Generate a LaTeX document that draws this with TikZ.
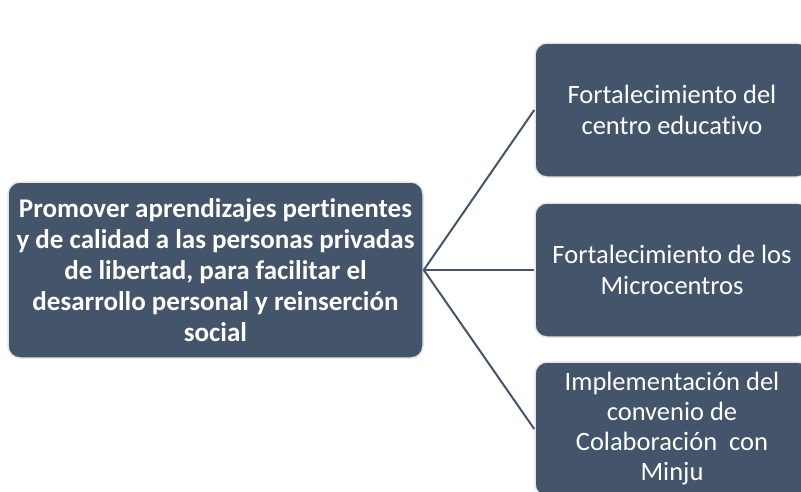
\documentclass[tikz,border=0pt]{standalone}
\usepackage{fontspec}
\setmainfont[Ligatures=NoCommon]{Carlito}
\definecolor{pizarra}{HTML}{44546A}
\begin{document}
\begin{tikzpicture}[x=1pt,y=-1pt,
    caja/.style={fill=pizarra, draw=gray!20, line width=1.5pt, rounded corners=12pt,
                 text=white, align=center, inner sep=0pt},
    rama/.style={draw=pizarra, line width=2pt}]
    % Marco de la figura
    \useasboundingbox (0,0) rectangle (801,491);
    \clip (0,0) rectangle (801,491);

    % Objetivo general
    \node[caja, minimum width=415pt, minimum height=176pt,
          font=\bfseries\fontsize{27}{31}\selectfont] (objetivo) at (215.5,270)
        {Promover aprendizajes pertinentes\\y de calidad a las personas privadas\\de libertad, para facilitar el\\desarrollo personal y reinserción\\social};

    % Líneas de acción
    \node[caja, minimum width=274pt, minimum height=134pt,
          font=\fontsize{26.5}{31}\selectfont] (centro) at (672,110)
        {Fortalecimiento del\\centro educativo};
    \node[caja, minimum width=274pt, minimum height=134pt,
          font=\fontsize{26.5}{31}\selectfont] (micro) at (672,270)
        {Fortalecimiento de los\\Microcentros};
    \node[caja, minimum width=274pt, minimum height=134pt,
          font=\fontsize{26.5}{30}\selectfont] (minju) at (672,429)
        {Implementación del\\convenio de\\Colaboración\ \ con\\Minju};

    % Conectores
    \foreach \n in {centro,micro,minju} {
        \draw[rama] (objetivo.east) -- (\n.west);
    }
\end{tikzpicture}
\end{document}
